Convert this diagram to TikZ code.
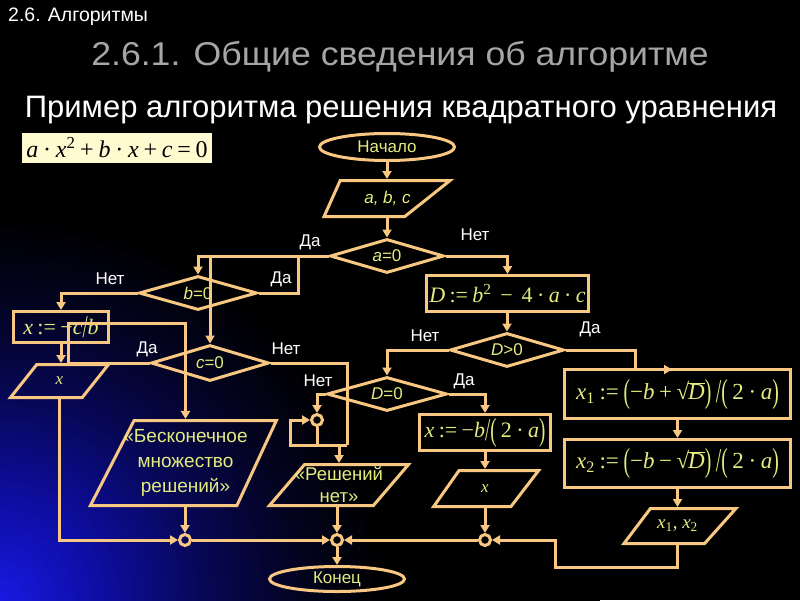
\documentclass[tikz,border=0pt]{standalone}
\usepackage{fontspec}
\usepackage{graphicx}
\setmainfont{Liberation Sans}
\newfontfamily\fserif{Liberation Serif}
\usetikzlibrary{shapes.geometric,arrows.meta}
\definecolor{lc}{RGB}{248,200,130}
\definecolor{tc}{RGB}{228,236,128}
\definecolor{ttlc}{RGB}{166,166,166}
\definecolor{eqbg}{RGB}{255,250,208}
\definecolor{gA}{RGB}{25,25,225}
\definecolor{gB}{RGB}{14,14,165}
\definecolor{gC}{RGB}{7,7,85}
\definecolor{gD}{RGB}{3,3,32}
\pgfdeclareradialshading{glow}{\pgfpoint{0bp}{0bp}}{color(0bp)=(gA); color(4bp)=(gB); color(8.5bp)=(gC); color(12.5bp)=(gD); color(16bp)=(black); color(50bp)=(black)}
\newcommand\iv[1]{\textit{#1}}
\newcommand\bp[1]{\raisebox{-0.25ex}{\scalebox{0.85}[1.45]{#1}}}
\newcommand\sqv[1]{√\kern-0.05em$\overline{\hbox{\textit{#1}}}$}
\newcommand\fs{\hspace{0.2em}}
\tikzset{
  ln/.style={draw=lc, line width=3pt},
  arr/.style={ln, -{Triangle[length=8pt,width=9pt]}},
  proc/.style={ln, rectangle, inner sep=0pt, text=tc, font=\fserif\fontsize{22}{26}\selectfont},
  dec/.style={ln, diamond, shape aspect=3.3, inner sep=0pt, text=tc, font=\fontsize{17}{20}\selectfont},
  io/.style={ln, trapezium, trapezium stretches=true, inner sep=2pt},
  lblin/.style={text=tc, inner sep=0pt, align=center, font=\fontsize{17}{20}\selectfont},
  term/.style={ln, ellipse, inner sep=0pt, text=tc, font=\fontsize{17}{20}\selectfont},
  jn/.style={ln, circle, minimum size=11pt, inner sep=0pt},
  yn/.style={text=white, inner sep=0pt, font=\fontsize{17}{20}\selectfont},
}
\begin{document}
\begin{tikzpicture}[x=1pt,y=-1pt]
\useasboundingbox (0,0) rectangle (800,600);
\fill[black] (0,0) rectangle (800,600);
\begin{scope}
\clip (0,0) rectangle (800,600);
\shade[shading=glow] (0,600) circle (600pt);
\end{scope}

% titles
\node[anchor=west, text=white, inner sep=0pt, font=\fontsize{19.5}{22}\selectfont] (sec) at (8,17) {2.6. Алгоритмы};
\node[text=ttlc, inner sep=0pt, font=\fontsize{33}{38}\selectfont] (ttl) at (400,57) {\scalebox{1.08}[1]{2.6.1. Общие сведения об алгоритме}};
\node[text=white, inner sep=0pt, font=\fontsize{31}{34}\selectfont] (sub) at (401,110) {Пример алгоритма решения квадратного уравнения};
\node[fill=eqbg, minimum width=190pt, minimum height=30pt, inner sep=0pt, text=black, font=\fserif\fontsize{24}{28}\selectfont] (eq) at (117,147.5)
  {\iv{a}\fs·\fs\iv{x}\textsuperscript{2}\fs+\fs\iv{b}\fs·\fs\iv{x}\fs+\fs\iv{c}\fs=\fs0};

% terminals
\node[term, minimum width=135pt, minimum height=27pt] (start) at (387,147) {Начало};
\node[term, minimum width=135pt, minimum height=25pt] (end) at (337,579) {Конец};

% input / output
\node[io, minimum width=126pt, minimum height=36pt, trapezium left angle=76, trapezium right angle=125,
  label={[lblin, xshift=15pt]center:{\itshape a, b, c}}] (abc) at (372.5,198.5) {};
\node[io, minimum width=98pt, minimum height=33pt, trapezium left angle=60, trapezium right angle=120,
  label={[lblin,font=\fserif\fontsize{17}{20}\selectfont]center:{\itshape x}}] (xl) at (59.5,381) {};
\node[io, minimum width=186pt, minimum height=85pt, trapezium left angle=67, trapezium right angle=111,
  label={[lblin,font=\fontsize{19}{25}\selectfont]center:{«Бесконечное\\множество\\решений»}}] (inf) at (185.5,463) {};
\node[io, minimum width=139pt, minimum height=41pt, trapezium left angle=63, trapezium right angle=117,
  label={[lblin,font=\fontsize{18.5}{22}\selectfont]center:{«Решений\\нет»}}] (nosol) at (339,485) {};
\node[io, minimum width=105pt, minimum height=36pt, trapezium left angle=64, trapezium right angle=118,
  label={[lblin,font=\fserif\fontsize{17}{20}\selectfont]center:{\itshape x}}] (xr) at (485,488.5) {};
\node[io, minimum width=112pt, minimum height=35pt, trapezium left angle=64, trapezium right angle=120,
  label={[lblin,font=\fserif\fontsize{19}{22}\selectfont]center:{\iv{x}\textsubscript{1}, \iv{x}\textsubscript{2}}}] (x12) at (677.5,526) {};

% processes
\node[proc, minimum width=95pt, minimum height=31pt] (xcb) at (61,327)
  {\iv{x}\fs:=\fs−\iv{c}\bp{/}\iv{b}};
\node[proc, minimum width=162pt, minimum height=36pt] (Dbox) at (507.5,293.5)
  {\iv{D}\fs:=\fs\iv{b}\textsuperscript{2}\fs\fs−\fs\fs4\fs·\fs\iv{a}\fs·\fs\iv{c}};
\node[proc, minimum width=131pt, minimum height=36pt] (xb) at (485,432.5)
  {\iv{x}\fs:=\fs−\iv{b}\bp{/}\bp{(}\fs2\fs·\fs\iv{a}\bp{)}};
\node[proc, minimum width=226pt, minimum height=49pt, font=\fserif\fontsize{23}{26}\selectfont] (x1) at (677.5,394)
  {\iv{x}\textsubscript{1}\fs:=\fs\bp{(}−\iv{b}\fs+\fs\sqv{D}\bp{)}\fs\bp{/}\bp{(}\fs2\fs·\fs\iv{a}\bp{)}};
\node[proc, minimum width=226pt, minimum height=48pt, font=\fserif\fontsize{23}{26}\selectfont] (x2) at (677.5,463.5)
  {\iv{x}\textsubscript{2}\fs:=\fs\bp{(}−\iv{b}\fs−\fs\sqv{D}\bp{)}\fs\bp{/}\bp{(}\fs2\fs·\fs\iv{a}\bp{)}};

% decisions
\node[dec, minimum width=114pt, minimum height=34pt] (a0) at (387,256) {\itshape a\upshape =0};
\node[dec, minimum width=118pt, minimum height=34pt] (b0) at (198,293) {\itshape b\upshape =0};
\node[dec, minimum width=118pt, minimum height=36pt] (c0) at (210,363) {\itshape c\upshape =0};
\node[dec, minimum width=114pt, minimum height=34pt] (Dg) at (507,350) {\itshape D\upshape >0};
\node[dec, minimum width=120pt, minimum height=34pt] (De) at (387,394) {\itshape D\upshape =0};

% junctions
\node[jn] (j0) at (317,420) {};
\node[jn] (j1) at (185,540) {};
\node[jn] (j2) at (337,540) {};
\node[jn] (j3) at (485,540) {};

% yes/no labels
\node[yn] (l1) at (310,242) {Да};
\node[yn] (l2) at (475,235) {Нет};
\node[yn] (l3) at (110,279) {Нет};
\node[yn] (l4) at (281,279) {Да};
\node[yn] (l5) at (147,349) {Да};
\node[yn] (l6) at (286,349) {Нет};
\node[yn] (l7) at (425,336) {Нет};
\node[yn] (l8) at (590,329) {Да};
\node[yn] (l9) at (318,381) {Нет};
\node[yn] (l10) at (464,381) {Да};

% helper coordinates
\coordinate (bup) at (298,256);
\coordinate (cy1) at (68,323);
\coordinate (cn) at (347,445);
\coordinate (lp) at (290,445);
\coordinate (dd) at (635,369.5);
\coordinate (dd2) at (672,369.5);
\coordinate (r1) at (555,567);

% connectors
\draw[arr] (start.south) -- (start.south |- abc.north);
\draw[arr] (a0.north |- abc.south) -- (a0.north);
\draw[arr] (a0.west) -| (b0.north);
\draw[arr] (b0.east) -| (bup) -| (c0.north);
\draw[arr] (a0.east) -| (Dbox.north);
\draw[arr] (b0.west) -| (xcb.north);
\draw[arr] (xcb.south) -- (xcb.south |- xl.north);
\draw[arr] (c0.west) -| (cy1) -| (inf.north);
\draw[ln] (c0.east) -| (cn);
\draw[ln] (j0.south) |- (cn);
\draw[arr] (j0.south) |- (lp) |- (j0.west);
\draw[arr] (nosol.north |- cn) -- (nosol.north);
\draw[arr] (Dg.north |- Dbox.south) -- (Dg.north);
\draw[arr] (Dg.west) -| (De.north);
\draw[arr] (De.west) -| (j0.north);
\draw[arr] (De.east) -| (xb.north);
\draw[arr] (xb.south) -- (xr.north);
\draw[arr] (xr.south) -- (j3.north);
\draw[ln] (Dg.east) -| (dd);
\draw[arr] (dd) -- (dd2);
\draw[arr] (x1.south) -- (x2.north);
\draw[arr] (x2.south) -- (x12.north);
\draw[arr] (x12.south) |- (r1) |- (j3.east);
\draw[arr] (j3.west) -- (j2.east);
\draw[arr] (xl.south) |- (j1.west);
\draw[arr] (j1.north |- inf.south) -- (j1.north);
\draw[arr] (j1.east) -- (j2.west);
\draw[arr] (j2.north |- nosol.south) -- (j2.north);
\draw[arr] (j2.south) -- (end.north);
\end{tikzpicture}
\end{document}
